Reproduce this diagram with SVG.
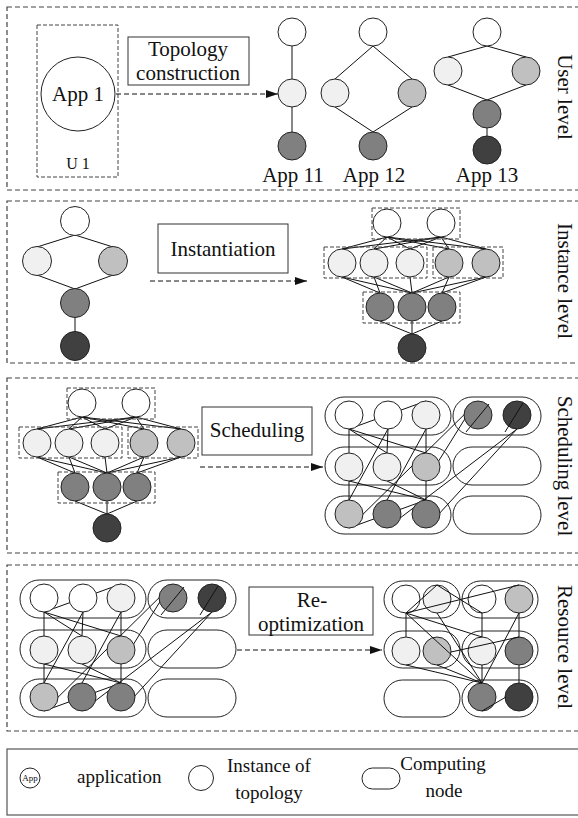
<svg xmlns="http://www.w3.org/2000/svg" width="578" height="818" viewBox="0 0 578 818">
<style>
.pnl{fill:none;stroke:#444;stroke-width:1.2;stroke-dasharray:5 3}
.grp{fill:none;stroke:#444;stroke-width:1;stroke-dasharray:4 2}
.c{stroke:#222;stroke-width:1}
.f0{fill:#ffffff}.f1{fill:#f0f0f0}.f2{fill:#c0c0c0}.f3{fill:#808080}.f4{fill:#404040}
.cn{fill:none;stroke:#222;stroke-width:1}
.e{stroke:#111;stroke-width:1;fill:none}
.box{fill:#fff;stroke:#333;stroke-width:1}
.da{stroke:#111;stroke-width:1;fill:none;stroke-dasharray:5 3}
.t{font-family:"Liberation Serif","Times New Roman",serif;fill:#111;font-size:21px}
.m{text-anchor:middle}
</style>
<defs>
<marker id="ah" markerWidth="12" markerHeight="8" refX="12" refY="4" orient="auto" markerUnits="userSpaceOnUse"><path d="M0,0 L12,4 L0,8 z" fill="#111"/></marker>
</defs>

<!-- panel frames -->
<g id="frames">
<rect class="pnl" x="7" y="7" width="575" height="183"/>
<rect class="pnl" x="7" y="201" width="575" height="162"/>
<rect class="pnl" x="7" y="378" width="575" height="175"/>
<rect class="pnl" x="7" y="565" width="575" height="166"/>
<rect x="7" y="749" width="575" height="66" fill="none" stroke="#555" stroke-width="1.2"/>
</g>

<!-- ============ PANEL 1 ============ -->
<g id="u1">
<rect class="grp" x="37" y="25" width="81" height="152"/>
<text class="t m" x="78" y="169" font-size="16" style="font-size:16px">U 1</text>
</g>
<g id="app1">
<circle class="c f0" cx="78" cy="94" r="37"/>
<text class="t m" x="78" y="101">App 1</text>
</g>
<g id="lbl-topology">
<rect class="box" x="128" y="37" width="121" height="48"/>
<text class="t m" x="188" y="56">Topology</text>
<text class="t m" x="188" y="80">construction</text>
</g>

<g id="connectors">
<!-- panel 1 -->
<line class="da" x1="116" y1="94" x2="278" y2="94" marker-end="url(#ah)"/>
<line class="e" x1="292" y1="46" x2="292" y2="79"/>
<line class="e" x1="292" y1="107" x2="292" y2="132"/>
<line class="e" x1="373" y1="46" x2="335" y2="79"/>
<line class="e" x1="373" y1="46" x2="412" y2="79"/>
<line class="e" x1="335" y1="107" x2="373" y2="132"/>
<line class="e" x1="412" y1="107" x2="373" y2="132"/>
<line class="e" x1="487" y1="46" x2="448" y2="57"/>
<line class="e" x1="487" y1="46" x2="526" y2="57"/>
<line class="e" x1="448" y1="85" x2="487" y2="100"/>
<line class="e" x1="526" y1="85" x2="487" y2="100"/>
<line class="e" x1="487" y1="128" x2="487" y2="136"/>
<!-- panel 2 left -->
<line class="e" x1="75" y1="235" x2="37" y2="247"/>
<line class="e" x1="75" y1="235" x2="113" y2="247"/>
<line class="e" x1="37" y1="275" x2="75" y2="289"/>
<line class="e" x1="113" y1="275" x2="75" y2="289"/>
<line class="e" x1="75" y1="317" x2="75" y2="332"/>
<line class="da" x1="150" y1="281" x2="307" y2="281" marker-end="url(#ah)"/>
<line class="da" x1="200" y1="467" x2="323" y2="467" marker-end="url(#ah)"/>
<line class="da" x1="237" y1="650" x2="382" y2="650" marker-end="url(#ah)"/>
</g>

<!-- App 11 -->
<g id="app11">
<circle class="c f0" cx="292" cy="32" r="14"/>
<circle class="c f1" cx="292" cy="93" r="14"/>
<circle class="c f3" cx="292" cy="146" r="14"/>
<text class="t m" x="293" y="182">App 11</text>
</g>
<g id="app12">
<circle class="c f0" cx="373" cy="32" r="14"/>
<circle class="c f1" cx="335" cy="93" r="14"/>
<circle class="c f2" cx="412" cy="93" r="14"/>
<circle class="c f3" cx="373" cy="146" r="14"/>
<text class="t m" x="374" y="182">App 12</text>
</g>
<g id="app13">
<circle class="c f0" cx="487" cy="32" r="14"/>
<circle class="c f1" cx="448" cy="71" r="14"/>
<circle class="c f2" cx="526" cy="71" r="14"/>
<circle class="c f3" cx="487" cy="114" r="14"/>
<circle class="c f4" cx="487" cy="150" r="14"/>
<text class="t m" x="487" y="182">App 13</text>
</g>
<text class="t m" transform="translate(558,97) rotate(90)">User level</text>

<!-- ============ PANEL 2 ============ -->
<g id="topo-p2">
<circle class="c f0" cx="75" cy="221" r="14.5"/>
<circle class="c f1" cx="37" cy="261" r="14.5"/>
<circle class="c f2" cx="113" cy="261" r="14.5"/>
<circle class="c f3" cx="75" cy="303" r="14.5"/>
<circle class="c f4" cx="75" cy="346" r="14.5"/>
</g>
<g id="lbl-inst">
<rect class="box" x="158" y="224" width="130" height="49"/>
<text class="t m" x="223" y="256">Instantiation</text>
</g>

<g id="inst-p2">
<g id="inst-p2-edges">
<line class="e" x1="387" y1="237" x2="342" y2="249"/><line class="e" x1="387" y1="237" x2="374" y2="249"/><line class="e" x1="387" y1="237" x2="410" y2="249"/><line class="e" x1="387" y1="237" x2="449" y2="249"/><line class="e" x1="387" y1="237" x2="486" y2="249"/>
<line class="e" x1="441" y1="237" x2="342" y2="249"/><line class="e" x1="441" y1="237" x2="374" y2="249"/><line class="e" x1="441" y1="237" x2="410" y2="249"/><line class="e" x1="441" y1="237" x2="449" y2="249"/><line class="e" x1="441" y1="237" x2="486" y2="249"/>
<line class="e" x1="342" y1="277" x2="380" y2="293"/><line class="e" x1="374" y1="277" x2="380" y2="293"/>
<line class="e" x1="342" y1="277" x2="412" y2="293"/><line class="e" x1="374" y1="277" x2="412" y2="293"/><line class="e" x1="410" y1="277" x2="412" y2="293"/><line class="e" x1="449" y1="277" x2="412" y2="293"/><line class="e" x1="486" y1="277" x2="412" y2="293"/>
<line class="e" x1="449" y1="277" x2="442" y2="293"/><line class="e" x1="486" y1="277" x2="442" y2="293"/>
<line class="e" x1="380" y1="321" x2="412" y2="334"/><line class="e" x1="412" y1="321" x2="412" y2="334"/><line class="e" x1="442" y1="321" x2="412" y2="334"/>
</g>
<g id="inst-p2-groups">
<rect class="grp" x="372" y="208" width="88" height="31"/>
<rect class="grp" x="324" y="247" width="103" height="31"/>
<rect class="grp" x="433" y="247" width="70" height="31"/>
<rect class="grp" x="363" y="292" width="97" height="31"/>
</g>
<g id="inst-p2-t1"><circle class="c f0" cx="387" cy="223" r="14"/></g>
<g id="inst-p2-t2"><circle class="c f0" cx="441" cy="223" r="14"/></g>
<g id="inst-p2-m1"><circle class="c f1" cx="342" cy="263" r="14"/></g>
<g id="inst-p2-m2"><circle class="c f1" cx="374" cy="263" r="14"/></g>
<g id="inst-p2-m3"><circle class="c f1" cx="410" cy="263" r="14"/></g>
<g id="inst-p2-m4"><circle class="c f2" cx="449" cy="263" r="14"/></g>
<g id="inst-p2-m5"><circle class="c f2" cx="486" cy="263" r="14"/></g>
<g id="inst-p2-b1"><circle class="c f3" cx="380" cy="307" r="14"/></g>
<g id="inst-p2-b2"><circle class="c f3" cx="412" cy="307" r="14"/></g>
<g id="inst-p2-b3"><circle class="c f3" cx="442" cy="307" r="14"/></g>
<g id="inst-p2-d"><circle class="c f4" cx="412" cy="348" r="14"/></g>
</g>
<text class="t m" transform="translate(558,281) rotate(90)">Instance level</text>

<!-- ============ PANEL 3 ============ -->
<g id="inst-p3" transform="translate(-305,180)">
<g id="inst-p3-edges">
<line class="e" x1="387" y1="237" x2="342" y2="249"/><line class="e" x1="387" y1="237" x2="374" y2="249"/><line class="e" x1="387" y1="237" x2="410" y2="249"/><line class="e" x1="387" y1="237" x2="449" y2="249"/><line class="e" x1="387" y1="237" x2="486" y2="249"/>
<line class="e" x1="441" y1="237" x2="342" y2="249"/><line class="e" x1="441" y1="237" x2="374" y2="249"/><line class="e" x1="441" y1="237" x2="410" y2="249"/><line class="e" x1="441" y1="237" x2="449" y2="249"/><line class="e" x1="441" y1="237" x2="486" y2="249"/>
<line class="e" x1="342" y1="277" x2="380" y2="293"/><line class="e" x1="374" y1="277" x2="380" y2="293"/>
<line class="e" x1="342" y1="277" x2="412" y2="293"/><line class="e" x1="374" y1="277" x2="412" y2="293"/><line class="e" x1="410" y1="277" x2="412" y2="293"/><line class="e" x1="449" y1="277" x2="412" y2="293"/><line class="e" x1="486" y1="277" x2="412" y2="293"/>
<line class="e" x1="449" y1="277" x2="442" y2="293"/><line class="e" x1="486" y1="277" x2="442" y2="293"/>
<line class="e" x1="380" y1="321" x2="412" y2="334"/><line class="e" x1="412" y1="321" x2="412" y2="334"/><line class="e" x1="442" y1="321" x2="412" y2="334"/>
</g>
<g id="inst-p3-groups">
<rect class="grp" x="372" y="208" width="88" height="31"/>
<rect class="grp" x="324" y="247" width="103" height="31"/>
<rect class="grp" x="433" y="247" width="70" height="31"/>
<rect class="grp" x="363" y="292" width="97" height="31"/>
</g>
<g id="inst-p3-t1"><circle class="c f0" cx="387" cy="223" r="14"/></g>
<g id="inst-p3-t2"><circle class="c f0" cx="441" cy="223" r="14"/></g>
<g id="inst-p3-m1"><circle class="c f1" cx="342" cy="263" r="14"/></g>
<g id="inst-p3-m2"><circle class="c f1" cx="374" cy="263" r="14"/></g>
<g id="inst-p3-m3"><circle class="c f1" cx="410" cy="263" r="14"/></g>
<g id="inst-p3-m4"><circle class="c f2" cx="449" cy="263" r="14"/></g>
<g id="inst-p3-m5"><circle class="c f2" cx="486" cy="263" r="14"/></g>
<g id="inst-p3-b1"><circle class="c f3" cx="380" cy="307" r="14"/></g>
<g id="inst-p3-b2"><circle class="c f3" cx="412" cy="307" r="14"/></g>
<g id="inst-p3-b3"><circle class="c f3" cx="442" cy="307" r="14"/></g>
<g id="inst-p3-d"><circle class="c f4" cx="412" cy="348" r="14"/></g>
</g>
<g id="lbl-sched">
<rect class="box" x="202" y="407" width="110" height="48"/>
<text class="t m" x="257" y="437">Scheduling</text>
</g>

<g id="sched-p3">
<g id="sched-p3-nodes">
<rect class="cn" x="325" y="397" width="126" height="38" rx="19"/>
<rect class="cn" x="453" y="397" width="88" height="38" rx="19"/>
<rect class="cn" x="325" y="447" width="126" height="38" rx="19"/>
<rect class="cn" x="453" y="447" width="88" height="38" rx="19"/>
<rect class="cn" x="325" y="496" width="126" height="38" rx="19"/>
<rect class="cn" x="453" y="496" width="88" height="38" rx="19"/>
</g>
<g id="sched-p3-edges">
<line class="e" x1="349" y1="429" x2="426" y2="401"/>
<line class="e" x1="349" y1="429" x2="349" y2="500"/>
<line class="e" x1="349" y1="429" x2="387" y2="453"/>
<line class="e" x1="349" y1="429" x2="426" y2="453"/>
<line class="e" x1="388" y1="429" x2="387" y2="453"/>
<line class="e" x1="388" y1="429" x2="349" y2="500"/>
<line class="e" x1="349" y1="481" x2="426" y2="500"/>
<line class="e" x1="387" y1="481" x2="426" y2="500"/>
<line class="e" x1="426" y1="429" x2="426" y2="500"/>
<line class="e" x1="426" y1="429" x2="387" y2="500"/>
<line class="e" x1="349" y1="528" x2="426" y2="500"/>
<line class="e" x1="438" y1="462" x2="476" y2="401"/>
<line class="e" x1="349" y1="528" x2="478" y2="401"/>
<line class="e" x1="387" y1="528" x2="517" y2="429"/>
<line class="e" x1="426" y1="528" x2="517" y2="429"/>
</g>
<g id="sched-p3-w1"><circle class="c f0" cx="349" cy="415" r="14"/></g>
<g id="sched-p3-w2"><circle class="c f0" cx="388" cy="415" r="14"/></g>
<g id="sched-p3-l3"><circle class="c f1" cx="426" cy="415" r="14"/></g>
<g id="sched-p3-g4"><circle class="c f3" cx="478" cy="415" r="14"/></g>
<g id="sched-p3-d"><circle class="c f4" cx="517" cy="415" r="14"/></g>
<g id="sched-p3-l1"><circle class="c f1" cx="349" cy="467" r="14"/></g>
<g id="sched-p3-l2"><circle class="c f1" cx="387" cy="467" r="14"/></g>
<g id="sched-p3-c0a"><circle class="c f2" cx="426" cy="467" r="14"/></g>
<g id="sched-p3-c0b"><circle class="c f2" cx="349" cy="514" r="14"/></g>
<g id="sched-p3-g2"><circle class="c f3" cx="387" cy="514" r="14"/></g>
<g id="sched-p3-g3"><circle class="c f3" cx="426" cy="514" r="14"/></g>
<g id="sched-p3-over">
<line class="e" x1="466" y1="432" x2="489" y2="404"/>
<line class="e" x1="505" y1="432" x2="523" y2="403"/>
</g>
</g>
<text class="t m" transform="translate(558,466) rotate(90)">Scheduling level</text>

<!-- ============ PANEL 4 ============ -->
<g id="sched-p4" transform="translate(-305,183)">
<g id="sched-p4-nodes">
<rect class="cn" x="325" y="397" width="126" height="38" rx="19"/>
<rect class="cn" x="453" y="397" width="88" height="38" rx="19"/>
<rect class="cn" x="325" y="447" width="126" height="38" rx="19"/>
<rect class="cn" x="453" y="447" width="88" height="38" rx="19"/>
<rect class="cn" x="325" y="496" width="126" height="38" rx="19"/>
<rect class="cn" x="453" y="496" width="88" height="38" rx="19"/>
</g>
<g id="sched-p4-edges">
<line class="e" x1="349" y1="429" x2="426" y2="401"/>
<line class="e" x1="349" y1="429" x2="349" y2="500"/>
<line class="e" x1="349" y1="429" x2="387" y2="453"/>
<line class="e" x1="349" y1="429" x2="426" y2="453"/>
<line class="e" x1="388" y1="429" x2="387" y2="453"/>
<line class="e" x1="388" y1="429" x2="349" y2="500"/>
<line class="e" x1="349" y1="481" x2="426" y2="500"/>
<line class="e" x1="387" y1="481" x2="426" y2="500"/>
<line class="e" x1="426" y1="429" x2="426" y2="500"/>
<line class="e" x1="426" y1="429" x2="387" y2="500"/>
<line class="e" x1="349" y1="528" x2="426" y2="500"/>
<line class="e" x1="438" y1="462" x2="476" y2="401"/>
<line class="e" x1="349" y1="528" x2="478" y2="401"/>
<line class="e" x1="387" y1="528" x2="517" y2="429"/>
<line class="e" x1="426" y1="528" x2="517" y2="429"/>
</g>
<g id="sched-p4-w1"><circle class="c f0" cx="349" cy="415" r="14"/></g>
<g id="sched-p4-w2"><circle class="c f0" cx="388" cy="415" r="14"/></g>
<g id="sched-p4-l3"><circle class="c f1" cx="426" cy="415" r="14"/></g>
<g id="sched-p4-g4"><circle class="c f3" cx="478" cy="415" r="14"/></g>
<g id="sched-p4-d"><circle class="c f4" cx="517" cy="415" r="14"/></g>
<g id="sched-p4-l1"><circle class="c f1" cx="349" cy="467" r="14"/></g>
<g id="sched-p4-l2"><circle class="c f1" cx="387" cy="467" r="14"/></g>
<g id="sched-p4-c0a"><circle class="c f2" cx="426" cy="467" r="14"/></g>
<g id="sched-p4-c0b"><circle class="c f2" cx="349" cy="514" r="14"/></g>
<g id="sched-p4-g2"><circle class="c f3" cx="387" cy="514" r="14"/></g>
<g id="sched-p4-g3"><circle class="c f3" cx="426" cy="514" r="14"/></g>
<g id="sched-p4-over">
<line class="e" x1="466" y1="432" x2="489" y2="404"/>
<line class="e" x1="505" y1="432" x2="523" y2="403"/>
</g>
</g>
<g id="lbl-reopt">
<rect class="box" x="249" y="587" width="124" height="48"/>
<text class="t m" x="312" y="607">Re-</text>
<text class="t m" x="311" y="631">optimization</text>
</g>

<g id="res-p4">
<g id="res-p4-nodes">
<rect class="cn" x="384" y="581" width="76" height="37" rx="18.5"/>
<rect class="cn" x="462" y="581" width="76" height="37" rx="18.5"/>
<rect class="cn" x="384" y="631" width="76" height="37" rx="18.5"/>
<rect class="cn" x="462" y="631" width="76" height="37" rx="18.5"/>
<rect class="cn" x="384" y="680" width="76" height="37" rx="18.5"/>
<rect class="cn" x="462" y="680" width="76" height="37" rx="18.5"/>
</g>
<g id="res-p4-w1"><circle class="c f0" cx="406" cy="599" r="14"/></g>
<g id="res-p4-l1"><circle class="c f1" cx="437" cy="599" r="14"/></g>
<g id="res-p4-w2"><circle class="c f0" cx="482" cy="599" r="14"/></g>
<g id="res-p4-c1"><circle class="c f2" cx="519" cy="599" r="14"/></g>
<g id="res-p4-l2"><circle class="c f1" cx="406" cy="651" r="14"/></g>
<g id="res-p4-c2"><circle class="c f2" cx="437" cy="651" r="14"/></g>
<g id="res-p4-l3"><circle class="c f1" cx="482" cy="651" r="14"/></g>
<g id="res-p4-g1"><circle class="c f3" cx="519" cy="651" r="14"/></g>
<g id="res-p4-g2"><circle class="c f3" cx="482" cy="697" r="14"/></g>
<g id="res-p4-d"><circle class="c f4" cx="519" cy="697" r="14"/></g>
<g id="res-p4-edges">
<line class="e" x1="406" y1="613" x2="437" y2="585"/>
<line class="e" x1="406" y1="613" x2="519" y2="585"/>
<line class="e" x1="406" y1="613" x2="406" y2="637"/>
<line class="e" x1="406" y1="613" x2="482" y2="683"/>
<line class="e" x1="406" y1="613" x2="482" y2="637"/>
<line class="e" x1="437" y1="585" x2="482" y2="613"/>
<line class="e" x1="482" y1="613" x2="482" y2="637"/>
<line class="e" x1="519" y1="613" x2="519" y2="637"/>
<line class="e" x1="519" y1="613" x2="482" y2="683"/>
<line class="e" x1="437" y1="613" x2="482" y2="683"/>
<line class="e" x1="406" y1="665" x2="482" y2="683"/>
<line class="e" x1="437" y1="665" x2="482" y2="683"/>
<line class="e" x1="482" y1="665" x2="482" y2="683"/>
<line class="e" x1="451" y1="652" x2="519" y2="637"/>
<line class="e" x1="519" y1="665" x2="519" y2="683"/>
<line class="e" x1="482" y1="711" x2="506" y2="697"/>
</g>
</g>
<text class="t m" transform="translate(558,647) rotate(90)">Resource level</text>

<!-- ============ LEGEND ============ -->
<g id="legend-app">
<circle class="c f0" cx="30" cy="778" r="10"/>
<text class="t m" x="30" y="781" style="font-size:9px">App</text>
<text class="t" x="77" y="783" style="font-size:19px">application</text>
</g>
<g id="legend-instance">
<circle class="c f0" cx="201" cy="778" r="12.5"/>
<text class="t m" x="269" y="772" style="font-size:19px">Instance of</text>
<text class="t m" x="269" y="799" style="font-size:19px">topology</text>
</g>
<g id="legend-node">
<rect class="cn" x="362" y="768" width="38" height="21" rx="10.5"/>
<text class="t m" x="443" y="770" style="font-size:19px">Computing</text>
<text class="t m" x="444" y="797" style="font-size:19px">node</text>
</g>
</svg>
